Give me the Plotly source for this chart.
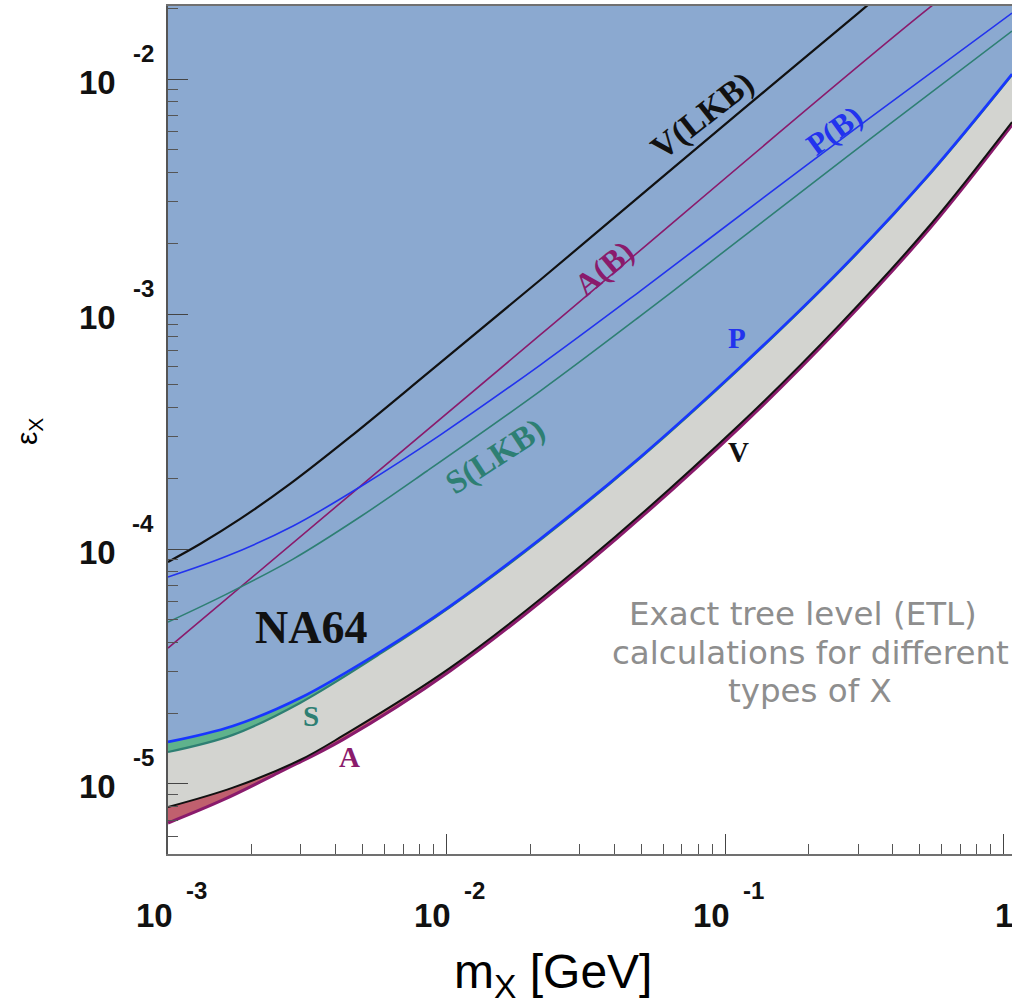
import math
import plotly.graph_objects as go

# ---------------- data ----------------
# upper (earlier bound) curves
m_VLKB = [1.0e-3, 1.303e-3, 1.816e-3, 2.742e-3, 4.508e-3, 8.73e-3, 2.168e-2, 6.501e-2, 0.1416, 0.3006, 0.4246]
e_VLKB = [8.81e-5, 1.050e-4, 1.343e-4, 1.892e-4, 2.999e-4, 5.715e-4, 1.396e-3, 4.178e-3, 9.06e-3, 1.910e-2, 2.692e-2]

m_AB = [1.0e-3, 2.168e-2, 0.5445, 1.0715]
e_AB = [3.79e-5, 8.147e-4, 2.023e-2, 3.70e-2]

m_PB = [1.0e-3, 1.629e-3, 2.812e-3, 4.887e-3, 9.48e-3, 2.168e-2, 4.955e-2, 0.1337, 0.3236, 1.0715]
e_PB = [7.60e-5, 9.33e-5, 1.253e-4, 1.837e-4, 3.055e-4, 6.067e-4, 1.253e-3, 3.055e-3, 6.70e-3, 1.910e-2]

m_SLKB = [1.0e-3, 1.629e-3, 2.812e-3, 4.887e-3, 8.51e-3, 2.168e-2, 4.955e-2, 0.1132, 0.3319, 1.0715]
e_SLKB = [4.887e-5, 6.442e-5, 9.057e-5, 1.368e-4, 2.148e-4, 4.699e-4, 9.795e-4, 2.084e-3, 5.559e-3, 1.600e-2]

# NA64 exact tree level (ETL) bounds
m_PS = [1.0e-3, 1.710e-3, 2.979e-3, 5.916e-3, 1.030e-2, 2.168e-2, 4.955e-2, 0.1132, 0.2588, 0.5445, 1.0715]
e_P = [1.510e-5, 1.766e-5, 2.323e-5, 3.715e-5, 5.715e-5, 1.104e-4, 2.460e-4, 5.943e-4, 1.538e-3, 3.981e-3, 1.050e-2]
e_S = [1.368e-5, 1.618e-5, 2.213e-5, 3.648e-5, 5.662e-5, 1.091e-4, 2.438e-4, 5.888e-4, 1.524e-3, 3.945e-3, 1.040e-2]

m_V = [1.0e-3, 1.710e-3, 2.979e-3, 4.246e-3, 1.030e-2, 3.090e-2, 0.1132, 0.2588, 0.5445, 1.0715]
e_V = [7.98e-6, 9.65e-6, 1.265e-5, 1.605e-5, 3.119e-5, 8.63e-5, 3.404e-4, 9.06e-4, 2.393e-3, 6.56e-3]

m_A = [1.0e-3, 1.574e-3, 2.523e-3, 4.246e-3, 1.030e-2, 3.090e-2, 0.1132, 0.2588, 0.5445, 1.0715]
e_A = [6.82e-6, 8.55e-6, 1.125e-5, 1.545e-5, 3.027e-5, 8.38e-5, 3.304e-4, 8.81e-4, 2.323e-3, 6.37e-3]

m_top = [1.0e-3, 1.0715]
e_top = [0.05, 0.05]

x_tickvals = [1e-3, 1e-2, 1e-1, 1]
x_tick_base = ["10", "10", "10", "1"]
x_tick_exp = ["-3", "-2", "-1", ""]
y_tickvals = [1e-5, 1e-4, 1e-3, 1e-2]
y_tick_base = ["10", "10", "10", "10"]
y_tick_exp = ["-5", "-4", "-3", "-2"]

# ---------------- styles ----------------
BLACK = "#111111"
PURPLE = "#8A1B6C"
BLUE = "#2233EE"
BLUE2 = "#1836FF"
TEAL = "#2E7F73"
FILL_BLUE = "#8BA9D0"
FILL_GRAY = "#D3D4D0"
FILL_GREEN = "#5FB28C"
FILL_RED = "#C0606E"

fig = go.Figure()

SM = 1.0


def fill_trace(x, y, color=None):
    kw = dict(fill="tonexty", fillcolor=color) if color else {}
    fig.add_trace(go.Scatter(x=x, y=y, mode="lines",
                             line=dict(width=0, shape="spline", smoothing=SM),
                             showlegend=False, hoverinfo="skip", **kw))


# fills (stacked, bottom to top)
fill_trace(m_A, e_A)
fill_trace(m_V, e_V, FILL_RED)
fill_trace(m_PS, e_S, FILL_GRAY)
fill_trace(m_PS, e_P, FILL_GREEN)
fill_trace(m_top, e_top, FILL_BLUE)


def add_line(x, y, color, width):
    fig.add_trace(go.Scatter(x=x, y=y, mode="lines",
                             line=dict(color=color, width=width, shape="spline", smoothing=SM),
                             showlegend=False, hoverinfo="skip"))


add_line(m_VLKB, e_VLKB, BLACK, 2.2)
add_line(m_AB, e_AB, PURPLE, 1.6)
add_line(m_PB, e_PB, BLUE, 1.6)
add_line(m_SLKB, e_SLKB, TEAL, 1.6)
add_line(m_PS, e_S, TEAL, 2.2)
add_line(m_PS, e_P, BLUE2, 2.6)
add_line(m_A, e_A, PURPLE, 3.0)
add_line(m_V, e_V, BLACK, 2.0)

# ---------------- layout ----------------
W, H = 1012, 1007
L, R, T, B = 168, 0, 6, 153
PW, PH = W - L - R, H - T - B


def px(xp):
    return (xp - L) / PW


def py(yp):
    return (H - B - yp) / PH


serif = "Liberation Serif"
sans = "Liberation Sans"
ann = []


def label(text, xp, yp, color, size, angle=0, family=serif):
    ann.append(dict(text=text, x=px(xp), y=py(yp), xref="paper", yref="paper",
                    showarrow=False, textangle=angle, xanchor="center", yanchor="middle",
                    font=dict(family=family, size=size, color=color)))


label("<b>V(LKB)</b>", 702, 116, BLACK, 34, -38)
label("<b>A(B)</b>", 604, 268, PURPLE, 32, -40)
label("<b>P(B)</b>", 834, 130, BLUE, 31, -36)
label("<b>S(LKB)</b>", 495, 456, TEAL, 33, -33)
label("<b>P</b>", 737, 338, BLUE, 29)
label("<b>V</b>", 738, 452, BLACK, 29)
label("<b>NA64</b>", 311, 627, BLACK, 46)
label("<b>S</b>", 311, 716, TEAL, 29)
label("<b>A</b>", 349, 757, PURPLE, 29)

GRAY_TXT = "#8E8E8E"
label("Exact tree level (ETL)", 803, 614, GRAY_TXT, 32.5, family="DejaVu Sans")
label("calculations for different", 810, 653, GRAY_TXT, 32.5, family="DejaVu Sans")
label("types of X", 810, 691, GRAY_TXT, 32.5, family="DejaVu Sans")

# axis titles
label("m<sub>X</sub> [GeV]", 553, 975, "#000000", 48, family=sans)
label("ε<sub>X</sub>", 28, 432, "#000000", 30, -90, family=sans)

# tick labels (base + raised exponent, as in the original)
BASE_SIZE = 33
EXP_SIZE = 24
for v, b, e in zip(x_tickvals, x_tick_base, x_tick_exp):
    lx = math.log10(v)
    ann.append(dict(text=f"<b>{b}</b>", x=lx, xref="x", y=py(915), yref="paper",
                    xshift=(-14 if e else 0), showarrow=False, xanchor="center", yanchor="middle",
                    font=dict(family=sans, size=BASE_SIZE, color="#111111")))
    if e:
        ann.append(dict(text=f"<b>{e}</b>", x=lx, xref="x", y=py(890), yref="paper",
                        xshift=28, showarrow=False, xanchor="center", yanchor="middle",
                        font=dict(family=sans, size=EXP_SIZE, color="#111111")))
for v, b, e in zip(y_tickvals, y_tick_base, y_tick_exp):
    ly = math.log10(v)
    ann.append(dict(text=f"<b>{b}</b>", x=px(118), xref="paper", y=ly, yref="y",
                    yshift=-3, showarrow=False, xanchor="right", yanchor="middle",
                    font=dict(family=sans, size=BASE_SIZE, color="#111111")))
    ann.append(dict(text=f"<b>{e}</b>", x=px(143), xref="paper", y=ly, yref="y",
                    yshift=26, showarrow=False, xanchor="center", yanchor="middle",
                    font=dict(family=sans, size=EXP_SIZE, color="#111111")))

minor_x = [d * 10.0 ** e for e in range(-3, 0) for d in range(2, 10)]
minor_y = [d * 10.0 ** e for e in range(-6, -1) for d in range(2, 10)]

fig.update_layout(
    width=W, height=H,
    margin=dict(l=L, r=R, t=T, b=B, pad=0),
    paper_bgcolor="white", plot_bgcolor="white",
    showlegend=False,
    annotations=ann,
    xaxis=dict(type="log", range=[-3, 0.03], showgrid=False, zeroline=False,
               showline=True, linecolor="#707070", linewidth=1.5, mirror=True,
               ticks="inside", ticklen=20, tickwidth=1.3, tickcolor="#444444",
               tickmode="array", tickvals=x_tickvals, showticklabels=False,
               minor=dict(tickmode="array", tickvals=minor_x, ticks="inside", ticklen=10,
                          tickwidth=1.2, tickcolor="#555555", showgrid=False)),
    yaxis=dict(type="log", range=[-5.298, -1.689], showgrid=False, zeroline=False,
               showline=True, linecolor="#555555", linewidth=1.5,
               ticks="inside", ticklen=20, tickwidth=1.3, tickcolor="#444444",
               tickmode="array", tickvals=y_tickvals, showticklabels=False,
               minor=dict(tickmode="array", tickvals=minor_y, ticks="inside", ticklen=10,
                          tickwidth=1.2, tickcolor="#555555", showgrid=False)),
)

fig.write_html("out.html", config={"displayModeBar": False},
               post_script="document.body.style.margin='0px';")
